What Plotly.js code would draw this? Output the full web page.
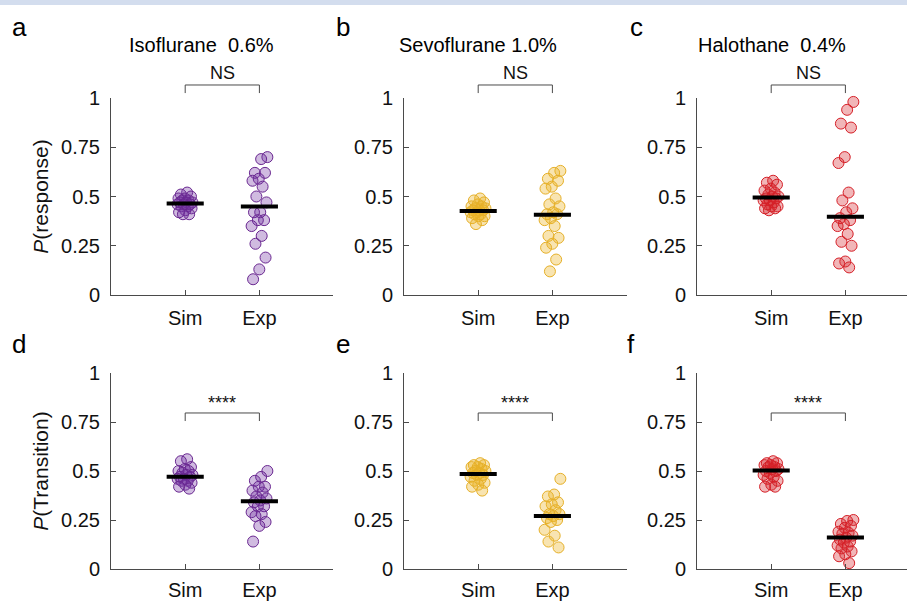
<!DOCTYPE html>
<html><head><meta charset="utf-8">
<script src="https://cdn.plot.ly/plotly-3.0.1.min.js"></script>
<style>html,body{margin:0;padding:0;background:#fff}#chart{width:907px;height:601px}</style>
</head><body><div id="chart"></div>
<script>
// ---------- data ----------
const categories = ['Sim', 'Exp'];
const panelLetters = ['a', 'b', 'c', 'd', 'e', 'f'];
const drugTitles = ['Isoflurane  0.6%', 'Sevoflurane 1.0%', 'Halothane  0.4%'];
const yTitles = ['<i>P</i>(response)', '<i>P</i>(Transition)'];
const significance = ['NS', 'NS', 'NS', '****', '****', '****'];
const yTickVals = [0, 0.25, 0.5, 0.75, 1];
const yTickText = ['0', '0.25', '0.5', '0.75', '1'];

const isoResponseSim = [0.52,0.51,0.50,0.49,0.49,0.48,0.48,0.47,0.47,0.47,0.46,0.46,0.46,0.45,0.45,0.44,0.43,0.42,0.41,0.41];
const isoResponseExp = [0.70,0.69,0.62,0.62,0.59,0.58,0.55,0.50,0.47,0.42,0.42,0.38,0.38,0.35,0.30,0.26,0.19,0.13,0.08];
const sevoResponseSim = [0.49,0.48,0.47,0.46,0.45,0.45,0.44,0.44,0.43,0.43,0.43,0.42,0.42,0.41,0.41,0.40,0.40,0.39,0.38,0.36];
const sevoResponseExp = [0.63,0.62,0.59,0.58,0.55,0.54,0.49,0.46,0.45,0.42,0.41,0.41,0.39,0.38,0.35,0.30,0.29,0.26,0.24,0.18,0.12];
const haloResponseSim = [0.58,0.57,0.56,0.54,0.53,0.52,0.51,0.50,0.50,0.49,0.49,0.48,0.48,0.47,0.46,0.45,0.45,0.44,0.44,0.43];
const haloResponseExp = [0.98,0.94,0.87,0.85,0.70,0.67,0.52,0.48,0.44,0.42,0.39,0.38,0.36,0.35,0.31,0.27,0.25,0.17,0.16,0.14];
const isoTransSim = [0.56,0.55,0.52,0.51,0.50,0.50,0.49,0.48,0.48,0.47,0.47,0.46,0.46,0.45,0.45,0.44,0.43,0.42,0.41];
const isoTransExp = [0.50,0.47,0.45,0.42,0.42,0.40,0.39,0.37,0.36,0.35,0.34,0.32,0.32,0.29,0.28,0.27,0.24,0.22,0.14];
const sevoTransSim = [0.54,0.53,0.53,0.52,0.52,0.51,0.50,0.50,0.49,0.49,0.48,0.48,0.47,0.46,0.45,0.44,0.43,0.42,0.40];
const sevoTransExp = [0.46,0.38,0.37,0.34,0.33,0.32,0.30,0.28,0.28,0.27,0.26,0.25,0.24,0.20,0.17,0.14,0.11];
const haloTransSim = [0.55,0.54,0.54,0.53,0.53,0.52,0.52,0.51,0.51,0.50,0.50,0.49,0.48,0.47,0.46,0.45,0.43,0.42,0.42];
const haloTransExp = [0.25,0.245,0.23,0.22,0.21,0.19,0.185,0.18,0.17,0.16,0.15,0.14,0.135,0.12,0.115,0.105,0.09,0.075,0.065,0.03];

const responseSimCentre = [0.465, 0.427, 0.495];
const responseExpCentre = [0.449, 0.407, 0.397];
const transSimCentre = [0.471, 0.485, 0.503];
const transExpCentre = [0.346, 0.271, 0.161];

// ---------- styles ----------
const edgeColors = ['rgb(106,40,145)', 'rgb(230,176,40)', 'rgb(214,32,40)'];
const fillColors = ['rgba(112,48,160,0.33)', 'rgba(236,180,40,0.36)', 'rgba(214,32,40,0.33)'];
const FONT = 'Arial, "Liberation Sans", sans-serif';
const PW = 907, PH = 601;
const px = v => v / PW, py = v => 1 - v / PH;

const panelData = [
  [isoResponseSim, isoResponseExp], [sevoResponseSim, sevoResponseExp], [haloResponseSim, haloResponseExp],
  [isoTransSim, isoTransExp], [sevoTransSim, sevoTransExp], [haloTransSim, haloTransExp]
];
const panelCentres = [
  [responseSimCentre[0], responseExpCentre[0]], [responseSimCentre[1], responseExpCentre[1]], [responseSimCentre[2], responseExpCentre[2]],
  [transSimCentre[0], transExpCentre[0]], [transSimCentre[1], transExpCentre[1]], [transSimCentre[2], transExpCentre[2]]
];

// layout geometry (pixels)
const colX = [[111, 333], [404, 627], [697, 907]];
const unitPx = 74.2;
const rowY = [[98, 295], [373, 569]];

function jitter(i, g) {
  const f = ((i + 1) * 0.6180339887 + g * 0.37) % 1;
  return (f * 2 - 1) * 0.11;
}

const traces = [];
const layout = {
  width: PW, height: PH,
  margin: {l: 0, r: 0, t: 0, b: 0},
  paper_bgcolor: '#fff', plot_bgcolor: '#fff',
  showlegend: false,
  font: {family: FONT, color: '#000'},
  annotations: [], shapes: []
};

// top band
layout.shapes.push({type: 'rect', xref: 'paper', yref: 'paper', x0: 0, x1: 1, y0: py(5), y1: 1,
  fillcolor: '#d3ddee', line: {width: 0}, layer: 'below'});

for (let p = 0; p < 6; p++) {
  const col = p % 3, row = Math.floor(p / 3);
  const sfx = p === 0 ? '' : String(p + 1);
  const xa = 'x' + sfx, ya = 'y' + sfx;
  const [x0px, x1px] = colX[col];
  const xr = [0, (x1px - x0px) / unitPx];
  const xd = [px(x0px), px(x1px)];
  const yd = [py(rowY[row][1]), py(rowY[row][0])];
  const axLine = {showline: true, linecolor: '#4a4a4a', linewidth: 1, ticks: 'inside', ticklen: 5,
    tickcolor: '#4a4a4a', showgrid: false, zeroline: false, fixedrange: true};
  layout['xaxis' + sfx] = Object.assign({}, axLine, {
    domain: xd, range: xr, anchor: ya, tickvals: [1, 2], ticktext: categories,
    tickfont: {family: FONT, size: 20, color: '#111'}, ticklabelstandoff: row === 0 ? 5 : 3
  });
  layout['yaxis' + sfx] = Object.assign({}, axLine, {
    domain: yd, range: [0, 1], anchor: xa, tickvals: yTickVals, ticktext: yTickText,
    tickfont: {family: FONT, size: 20, color: '#111'}, ticklabelstandoff: 6,
    title: col === 0 ? {text: yTitles[row], font: {family: FONT, size: 21, color: '#111'}, standoff: 6} : {text: ''}
  });

  const groups = panelData[p];
  groups.forEach((vals, g) => {
    traces.push({
      type: 'scatter', mode: 'markers', xaxis: xa, yaxis: ya,
      x: vals.map((v, i) => g + 1 + jitter(i, g)),
      y: vals,
      marker: {size: 11, color: fillColors[col], line: {color: edgeColors[col], width: 1}},
      cliponaxis: false, hoverinfo: 'y'
    });
  });
  panelCentres[p].forEach((m, g) => {
    traces.push({
      type: 'scatter', mode: 'lines', xaxis: xa, yaxis: ya,
      x: [g + 1 - 0.25, g + 1 + 0.25], y: [m, m],
      line: {color: '#000', width: 4}, hoverinfo: 'skip'
    });
  });

  // significance bracket (paper coordinates computed from axes)
  const toPX = xv => xd[0] + (xv - xr[0]) / (xr[1] - xr[0]) * (xd[1] - xd[0]);
  const toPY = yv => yd[0] + yv * (yd[1] - yd[0]);
  const yTop = row === 0 ? 1.066 : 0.796;
  const yFoot = row === 0 ? 1.025 : 0.755;
  layout.shapes.push({type: 'path', xref: 'paper', yref: 'paper',
    path: `M ${toPX(1)} ${toPY(yFoot)} L ${toPX(1)} ${toPY(yTop)} L ${toPX(2)} ${toPY(yTop)} L ${toPX(2)} ${toPY(yFoot)}`,
    line: {color: '#4a4a4a', width: 1}});
  layout.annotations.push({xref: 'paper', yref: 'paper', x: toPX(1.5), y: toPY(yTop),
    xanchor: 'center', yanchor: 'bottom', yshift: row === 0 ? 0 : -2,
    text: significance[p], showarrow: false, font: {family: FONT, size: 18, color: '#111'}});

  // panel letters
  const letterX = [19, 343, 636][col] + (row === 1 && col === 2 ? -5 : 0);
  const letterY = row === 0 ? 27 : 344;
  layout.annotations.push({xref: 'paper', yref: 'paper', x: px(letterX), y: py(letterY),
    xanchor: 'center', yanchor: 'middle',
    text: panelLetters[p], showarrow: false, font: {family: FONT, size: 26, color: '#000'}});
}

// drug titles
const titleX = [201, 478, 772];
drugTitles.forEach((t, i) => {
  layout.annotations.push({xref: 'paper', yref: 'paper', x: px(titleX[i]), y: py(45),
    xanchor: 'center', yanchor: 'middle',
    text: t, showarrow: false, font: {family: FONT, size: 20, color: '#000'}});
});

Plotly.newPlot('chart', traces, layout, {displayModeBar: false, staticPlot: true});
</script></body></html>
